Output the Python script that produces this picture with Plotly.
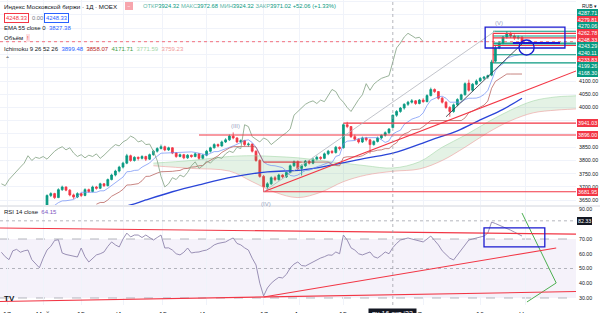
import plotly.graph_objects as go
import pandas as pd

# ---------------- data ----------------
opens = [3573,3580,3587,3573,3590,3597,3585,3600,3593,3605,3597,3605,
         3625,3668,3675,3660,3690,3700,3688,3670,3662,3675,3668,3690,3683,3700,3695,3712,3705,3728,3745,3760,3775,
         3790,3818,3800,3812,3808,3815,3805,3822,3835,3845,3852,3840,3848,3828,3815,3822,3810,3820,3815,3825,3808,
         3820,3835,3848,3860,3855,3870,3878,3892,3885,3870,3875,3860,3862,3835,3800,3740,3700,3712,3735,3728,3745,
         3738,3755,3780,3795,3770,3780,3798,3790,3805,3812,3808,3825,3835,3830,3850,3848,3935,3928,3890,3880,3870,
         3885,3878,3860,3872,3885,3895,3905,3924.32,3971,3985,3998,4012,4020,4025,4015,4028,4022,4045,4068,4060,
         4035,4020,4000,3985,4010,4030,4048,4092,4065,4088,4100,4110,4115,4122,4175,4225,4243,4266,4280,4270,4262,4265]
highs = [3585,3593,3590,3595,3603,3600,3605,3603,3609,3608,3612,3628,
         3672,3680,3678,3695,3705,3702,3692,3675,3680,3678,3695,3694,3705,3704,3716,3715,3732,3750,3765,3780,3795,
         3825,3822,3816,3815,3820,3818,3826,3840,3850,3860,3856,3852,3850,3832,3826,3825,3824,3822,3830,3828,3824,
         3840,3852,3865,3864,3875,3884,3898,3906,3888,3880,3878,3868,3864,3838,3805,3745,3718,3740,3742,3750,3748,
         3760,3785,3800,3800,3785,3802,3802,3810,3818,3816,3830,3840,3838,3855,3853,3940,3946,3930,3898,3884,3890,
         3889,3882,3876,3890,3898,3910,3922,3972.68,3990,4002,4016,4025,4032,4028,4032,4035,4050,4075,4072,4062,
         4040,4024,4005,4015,4035,4052,4095,4105,4092,4106,4115,4118,4124,4180,4232,4250,4270,4287.71,4284,4276,4272,4270]
lows = [3565,3575,3567,3570,3585,3580,3581,3587,3590,3591,3593,3600,
        3622,3662,3655,3658,3685,3684,3665,3655,3658,3662,3665,3678,3680,3690,3692,3700,3702,3725,3740,3755,3770,
        3786,3795,3796,3800,3804,3798,3802,3818,3830,3842,3835,3836,3824,3810,3812,3805,3806,3810,3812,3802,3804,
        3816,3830,3845,3850,3852,3866,3874,3880,3865,3864,3855,3852,3830,3795,3735,3682,3690,3708,3722,3724,3732,
        3734,3752,3776,3760,3743.46,3776,3785,3786,3800,3802,3805,3820,3825,3826,3838,3845,3922,3885,3875,3864,3866,
        3872,3826.28,3856,3868,3880,3890,3900,3924.32,3965,3980,3992,4006,4015,4010,4012,4018,4020,4042,4055,4030,
        4015,3995,3965,3980,4005,4026,4045,4060,4060,4084,4096,4104,4108,4118,4170,4220,4238,4260,4262,4255,4256,4240]
closes = [3580,3587,3573,3590,3597,3585,3600,3593,3605,3597,3605,3625,
          3668,3675,3660,3690,3700,3688,3670,3662,3675,3668,3690,3683,3700,3695,3712,3705,3728,3745,3760,3775,3790,
          3818,3800,3812,3808,3815,3805,3822,3835,3845,3852,3840,3848,3828,3815,3822,3810,3820,3815,3825,3808,3820,
          3835,3848,3860,3855,3870,3878,3892,3885,3870,3875,3860,3862,3835,3800,3740,3700,3712,3735,3728,3745,3738,
          3755,3780,3795,3770,3780,3798,3790,3805,3812,3808,3825,3835,3830,3850,3845,3935,3928,3890,3880,3870,3885,
          3878,3860,3872,3885,3895,3905,3918.96,3971.02,3985,3998,4012,4020,4025,4015,4028,4022,4045,4068,4060,4035,
          4020,4000,3985,4010,4030,4048,4090,4065,4088,4100,4110,4115,4120,4171.71,4225,4243,4266,4280,4270,4262,4265,4248.33]
rsi = [61,58,56,62,63,61,62,62.5,56,53,50.5,57,62.5,65,69,69.5,60.5,59.5,59,58,57.8,63.9,58,54.4,57,59.2,60,61.2,
       65,68,66,64.6,70,74,71.4,72.7,72.7,71,72.7,71,69.3,71,72.7,63.9,64,62.5,60,59.2,61,63.9,60.5,61,61.2,62,62.5,
       64,66,67,67.5,68,69.5,70.7,67,66,64,62.5,57,52.4,40,31.4,36.8,40,42.2,44,43.6,46,50.3,53,54.4,52,51.7,53,54.4,
       56,57.1,58,59.2,59,61.2,60,72.7,69.3,64,62.5,60,59.2,60,61.2,58,57.1,59,61.2,60,64.15,67,69.3,70,70.7,70,69.3,
       68.5,68,70,72,69,66,62,59.2,57,55.8,59,62.5,66,69.3,70,70.7,71.5,72,74,81.5,80.5,79.5,78.5,77.5,76,74.7,73.5,72]
ema_bars = [28, 34, 38, 45, 52, 61, 70, 79, 87, 96, 103, 113, 120, 126, 132, 137]
ema_vals = [3615, 3632, 3651, 3682, 3708, 3738, 3757, 3764, 3783, 3809, 3827.38, 3877, 3912, 3953, 3993, 4035]
span_bars = [40, 50, 60, 66, 72, 78, 84, 90, 96, 103, 110, 116, 122, 128, 134, 140, 146, 152, 160]
span_a = [3790, 3800, 3815, 3818, 3815, 3810, 3800, 3790, 3780, 3771.59, 3795, 3850, 3895, 3945, 3990, 4025, 4040, 4045, 4060]
span_b = [3780, 3770, 3760, 3720, 3680, 3660, 3680, 3720, 3745, 3759.23, 3768, 3800, 3850, 3905, 3950, 3980, 3990, 3995, 4000]

price_ticks = [3650, 3700, 3750, 3800, 3850, 3900, 3950, 4000, 4050, 4100, 4150, 4200, 4250, 4300, 4350, 4400]
price_ticks_shown = [3650, 3700, 3750, 3800, 3850, 4000, 4050, 4100]
rsi_ticks = [30, 40, 50, 60, 70, 90]
date_tick_bars = [1.5, 11, 21, 32, 42.5, 54, 69, 78.5, 90, 111, 126, 138]
date_tick_text = ['17', 'Май', '15', 'Июн', '15', 'Июл', '17', 'Авг', '15', 'Окт', '16', 'Ноя']

# level lines: price, first bar, last bar (None = to the edge), colour key
levels = [(3941.03, 90, None, 'r'), (3896.00, 52, None, 'r'), (3681.95, 69, None, 'r'), (3794.0, 69, 79, 'r'),
          (4287.71, 129.4, None, 'g'), (4279.81, 129.4, None, 'r'), (4270.06, 129.4, None, 'g'),
          (4262.78, 129.4, None, 'r'), (4243.29, 129.4, None, 'g'), (4240.11, 129.4, None, 'g'),
          (4233.83, 129.4, None, 'r'), (4199.26, 129.4, None, 'g'), (4168.30, 129.4, None, 'g')]
axis_levels = [3941.03, 3896.00, 3681.95, 4287.71, 4279.81, 4270.06, 4262.78, 4243.29, 4240.11, 4233.83,
               4199.26, 4168.30]
last_price = 4248.33
trend_lines = [(69, 3681.95, 152, 4142, 'r'), (69, 3681.95, 130, 4289, 'gray'), (117, 3965, 137, 4240, 'k')]
rsi_lines = [(-0.4, 77.5, 152, 73.3, 'r'), (-0.4, 27.6, 152, 34.4, 'r'), (69, 30.7, 146, 63.9, 'r')]
rsi_green = ([137, 146, 138.3], [87.6, 40.2, 27.3])
wave_labels = [(61.5, 3930, '(III)'), (69.5, 3636, '(IV)'), (131, 4320, '(V)')]
cross_bar, cross_rsi = 103, 82.33

# ---------------- geometry ----------------
W, H = 600, 313
PLOT_R = 576
MAIN_TOP, MAIN_BOT = 0, 205
RSI_TOP, RSI_BOT = 207, 305
X0_PX, BAR_PX = 1.4, 3.8
P_TOP, P_BOT = 4405.7, 3632.0
R_TOP, R_BOT = 91.7, 25.25
XR = [(0 - X0_PX) / BAR_PX, (PLOT_R - X0_PX) / BAR_PX]
GREEN, RED, BLUE = '#089981', '#F23645', '#1a1ad0'
COL = {'r': RED, 'g': GREEN, 'gray': '#b2b5be', 'k': '#2a2e39'}
FONT = 'Liberation Sans'

def py_price(p):
    return MAIN_TOP + (P_TOP - p) / (P_TOP - P_BOT) * (MAIN_BOT - MAIN_TOP)

def py_rsi(v):
    return RSI_TOP + (R_TOP - v) / (R_TOP - R_BOT) * (RSI_BOT - RSI_TOP)

idx = list(range(len(closes)))
df = pd.DataFrame(dict(h=highs, l=lows, c=closes))
conv = (df.h.rolling(9).max() + df.l.rolling(9).min()) / 2
base = (df.h.rolling(26).max() + df.l.rolling(26).min()) / 2

fig = go.Figure()
fig.add_trace(go.Scatter(x=span_bars, y=span_b, mode='lines', line=dict(color='#EF9A9A', width=0.6, shape='spline'),
                         hoverinfo='skip'))
fig.add_trace(go.Scatter(x=span_bars, y=span_a, mode='lines', line=dict(color='#A5D6A7', width=0.6, shape='spline'),
                         fill='tonexty', fillcolor='rgba(67,160,71,0.14)', hoverinfo='skip'))
fig.add_trace(go.Scatter(x=ema_bars, y=ema_vals, mode='lines', line=dict(color='#2a45d8', width=1.3, shape='spline')))
fig.add_trace(go.Scatter(x=idx, y=conv, mode='lines', line=dict(color='#6d8cf5', width=0.7)))
fig.add_trace(go.Scatter(x=idx, y=base, mode='lines', line=dict(color='#b0504c', width=0.7)))
fig.add_trace(go.Scatter(x=idx[:-26], y=closes[26:], mode='lines', line=dict(color='#8faa8f', width=0.9)))
fig.add_trace(go.Candlestick(x=idx, open=opens, high=highs, low=lows, close=closes,
                             increasing=dict(line=dict(color=GREEN, width=0.8), fillcolor=GREEN),
                             decreasing=dict(line=dict(color=RED, width=0.8), fillcolor=RED),
                             whiskerwidth=0))
fig.add_trace(go.Scatter(x=idx, y=rsi, mode='lines', line=dict(color='#8f84ad', width=0.9),
                         xaxis='x2', yaxis='y2'))
fig.add_trace(go.Scatter(x=rsi_green[0], y=rsi_green[1], mode='lines', line=dict(color='#4caf50', width=1),
                         xaxis='x2', yaxis='y2'))

shapes = []
shapes.append(dict(type='rect', xref='x2', yref='y2', x0=XR[0], x1=XR[1], y0=30, y1=70,
                   fillcolor='rgba(126,87,194,0.08)', line=dict(width=0), layer='below'))
for lv, dash in [(70, 'dash'), (50, 'dot'), (30, 'dash')]:
    shapes.append(dict(type='line', xref='x2', yref='y2', x0=XR[0], x1=XR[1], y0=lv, y1=lv,
                       line=dict(color='#9598a1', width=0.7, dash=dash), layer='below'))
for p, b0, b1, c in levels:
    shapes.append(dict(type='line', xref='x', yref='y', x0=b0, x1=XR[1] if b1 is None else b1, y0=p, y1=p,
                       line=dict(color=COL[c], width=1.1 if b1 is None else 0.8)))
shapes.append(dict(type='line', xref='x', yref='y', x0=XR[0], x1=XR[1], y0=last_price, y1=last_price,
                   line=dict(color=RED, width=0.7, dash='dot')))
shapes.append(dict(type='line', xref='x', yref='y', x0=129.4, x1=129.4, y0=4168.30, y1=4279.81,
                   line=dict(color=RED, width=1.2)))
for b0, p0, b1, p1, c in trend_lines:
    shapes.append(dict(type='line', xref='x', yref='y', x0=b0, x1=b1, y0=p0, y1=p1,
                       line=dict(color=COL[c], width=1.1 if c == 'r' else 0.8)))
for b0, v0, b1, v1, c in rsi_lines:
    shapes.append(dict(type='line', xref='x2', yref='y2', x0=b0, x1=b1, y0=v0, y1=v1,
                       line=dict(color=COL[c], width=1.1)))
shapes.append(dict(type='rect', xref='x', yref='y', x0=127.3, x1=148.3, y0=4224.5, y1=4303.6,
                   line=dict(color=BLUE, width=1.3)))
shapes.append(dict(type='line', xref='x', yref='y', x0=134.6, x1=147, y0=4243.4, y1=4243.4,
                   line=dict(color=BLUE, width=2)))
shapes.append(dict(type='circle', xref='x', yref='y', x0=136.2, x1=140.2, y0=4198, y1=4254.7,
                   line=dict(color=BLUE, width=1.3)))
shapes.append(dict(type='rect', xref='x2', yref='y2', x0=127, x1=143, y0=64.6, y1=77.5,
                   line=dict(color=BLUE, width=1.3)))
shapes.append(dict(type='line', xref='x', yref='paper', x0=cross_bar, x1=cross_bar, y0=1 - RSI_BOT / H, y1=1,
                   line=dict(color='#9598a1', width=0.7, dash='dot')))
shapes.append(dict(type='line', xref='x2', yref='y2', x0=XR[0], x1=XR[1], y0=cross_rsi, y1=cross_rsi,
                   line=dict(color='#9598a1', width=0.7, dash='dot')))
shapes.append(dict(type='line', xref='paper', yref='paper', x0=0, x1=1, y0=1 - 206 / H, y1=1 - 206 / H,
                   line=dict(color='#d1d4dc', width=1)))

ann = []

def txt(px, py, s, color='#131722', size=6.5, anchor='left', bg=None, border=None, yanchor='middle'):
    ann.append(dict(x=px / W, y=1 - py / H, xref='paper', yref='paper', text=s, showarrow=False,
                    xanchor=anchor, yanchor=yanchor, font=dict(size=size, color=color, family=FONT),
                    bgcolor=bg, bordercolor=border, borderwidth=1 if border else 0, borderpad=1))

txt(3, 6, 'Индекс Московской биржи · 1Д · MOEX', size=6.2)
txt(125, 6, ' − ', color='white', size=5, bg='#f7a5ad')
txt(142, 6, "ОТКР<span style='color:#089981'>3924.32</span> МАКС<span style='color:#089981'>3972.68</span> "
            "МИН<span style='color:#089981'>3924.32</span> ЗАКР<span style='color:#089981'>3971.02</span> "
            "<span style='color:#089981'>+52.06 (+1.33%)</span>", color='#5fb7a9', size=5.8)
txt(4, 18, '4248.33', color=RED, size=5.8, border=RED, bg='white')
txt(31, 18, '0.00', color='#787b86', size=5.8)
txt(44, 18, '4248.33', color='#2962FF', size=5.8, border='#2962FF', bg='white')
txt(3, 28, "EMA 55 close 0  <span style='color:#2962FF'>3827.38</span>", size=6)
txt(3, 38.5, 'Объём', size=6)
txt(26, 38.5, '!', color=RED, size=6, bg='#fde0e3')
txt(3, 49, "Ichimoku 9 26 52 26  <span style='color:#2962FF'>3899.48</span>  "
           "<span style='color:#B71C1C'>3858.07</span>  <span style='color:#43A047'>4171.71</span>  "
           "<span style='color:#A5D6A7'>3771.59</span>  <span style='color:#EF9A9A'>3759.23</span>", size=6)
txt(4, 59, '⌃', color='#131722', size=6)
txt(3, 212, "RSI 14 close  <span style='color:#7E57C2'>64.15</span>", size=6)
txt(3, 298, '<b>TV</b>', color='#131722', size=8)

for b, p, s in wave_labels:
    ann.append(dict(x=b, y=p, xref='x', yref='y', text=s, showarrow=False,
                    font=dict(size=6, color='#9aa4c2', family=FONT)))

AX_X = PLOT_R + 1
lvl_col = {p: COL[c] for p, b0, b1, c in levels}
labs = [(p, lvl_col[p]) for p in axis_levels] + [(last_price, RED)]
labs.sort(key=lambda t: -t[0])
ys = [py_price(p) for p, c in labs]
GAP = 6.7
for _ in range(400):
    for k in range(len(ys) - 1):
        d = ys[k + 1] - ys[k]
        if d < GAP:
            m = (GAP - d) / 2
            ys[k] -= m
            ys[k + 1] += m
for (p, c), yy in zip(labs, ys):
    txt(AX_X, yy, f'{p:.2f}', color='white', size=5.3, bg=c)
txt(AX_X, py_rsi(cross_rsi), f'{cross_rsi:.2f}', color='white', size=5.3, bg='#131722')
txt(AX_X + 4, 6, 'RUB ▾', color='#131722', size=5)

for b, s in zip(date_tick_bars, date_tick_text):
    ann.append(dict(x=b, y=1 - 308.5 / H, xref='x', yref='paper', text=s, showarrow=False, yanchor='top',
                    font=dict(size=7, color='#131722', family=FONT)))
ann.append(dict(x=cross_bar, y=1 - 307.5 / H, xref='x', yref='paper', text=' пн 16 окт ‘23 ', showarrow=False,
                yanchor='top', bgcolor='#131722', font=dict(size=7, color='white', family=FONT)))

fig.update_layout(
    width=W, height=H, margin=dict(l=0, r=0, t=0, b=0),
    paper_bgcolor='white', plot_bgcolor='white', showlegend=False,
    shapes=shapes, annotations=ann,
    xaxis=dict(domain=[0, PLOT_R / W], range=XR, anchor='y', rangeslider=dict(visible=False),
               tickvals=date_tick_bars, showticklabels=False, showgrid=True, gridcolor='#f0f3fa',
               zeroline=False, showline=False),
    yaxis=dict(domain=[1 - MAIN_BOT / H, 1 - MAIN_TOP / H], range=[P_BOT, P_TOP], side='right', anchor='x',
               tickvals=price_ticks, ticktext=[f'{t:.2f}' if t in price_ticks_shown else '' for t in price_ticks],
               tickfont=dict(size=5.3, color='#131722', family=FONT), showgrid=True, gridcolor='#f0f3fa',
               zeroline=False, ticks='', ticklabelstandoff=2),
    xaxis2=dict(domain=[0, PLOT_R / W], range=XR, anchor='y2', matches='x', tickvals=date_tick_bars,
                showticklabels=False, showgrid=True, gridcolor='#f0f3fa', zeroline=False),
    yaxis2=dict(domain=[1 - RSI_BOT / H, 1 - RSI_TOP / H], range=[R_BOT, R_TOP], side='right', anchor='x2',
                tickvals=rsi_ticks, ticktext=[f'{t:.2f}' for t in rsi_ticks],
                tickfont=dict(size=5.3, color='#131722', family=FONT), showgrid=False, zeroline=False,
                ticks='', ticklabelstandoff=2),
)
fig.write_html('out.html')
